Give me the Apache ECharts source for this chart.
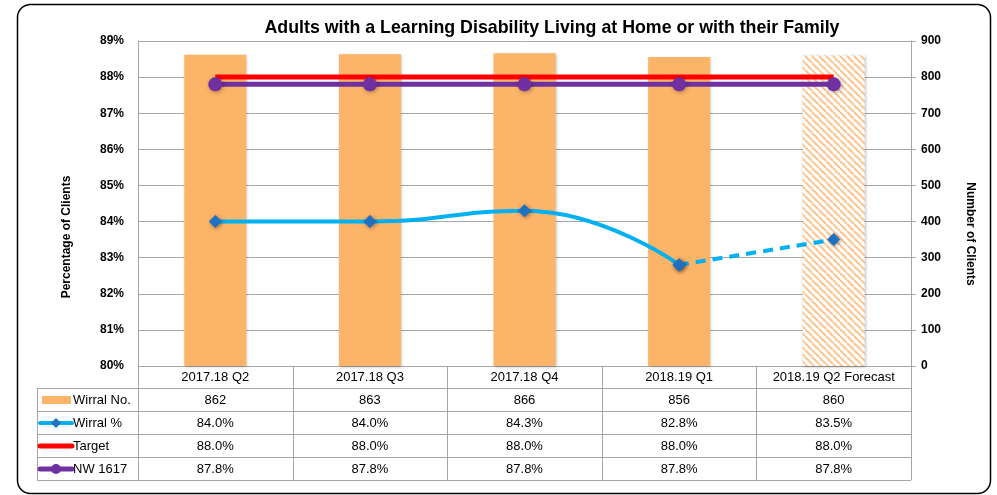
<!DOCTYPE html>
<html><head><meta charset="utf-8">
<script src="https://cdn.jsdelivr.net/npm/echarts@6/dist/echarts.min.js"></script>
<style>html,body{margin:0;padding:0;background:#fff}#c{width:997px;height:495px}</style>
</head><body><div id="c"></div>
<script>
const categories = ['2017.18 Q2','2017.18 Q3','2017.18 Q4','2018.19 Q1','2018.19 Q2 Forecast'];
const wirralNo = [862, 863, 866, 856, 860];
const wirralPct = [84.0, 84.0, 84.3, 82.8, 83.5];
const target = [88.0, 88.0, 88.0, 88.0, 88.0];
const nw1617 = [87.8, 87.8, 87.8, 87.8, 87.8];
const seriesNames = ['Wirral No.', 'Wirral %', 'Target', 'NW 1617'];
const forecastIndex = 4;

const FONT = '"Liberation Sans", Arial, sans-serif';
const ORANGE = '#FCB469';
const BLUE = '#00B0F0';
const BLUE_MK = '#1F70C1';
const RED = '#FF0000';
const PURPLE = '#7030A0';
const GRID = '#A6A6A6';

// hatch pattern
const pc = document.createElement('canvas');
pc.width = 7; pc.height = 7;
const g = pc.getContext('2d');
g.fillStyle = '#fff'; g.fillRect(0,0,7,7);
g.strokeStyle = '#FDC48F'; g.lineWidth = 2;
[-7,0,7].forEach(x0 => { g.beginPath(); g.moveTo(x0,0); g.lineTo(x0+7,7); g.stroke(); });

const chart = echarts.init(document.getElementById('c'), null, {renderer:'canvas'});
const L = 138, R = 86, T = 41, B = 129;

const barData = wirralNo.map((v,i) => i === forecastIndex
  ? {value: v, itemStyle: {color: {image: pc, repeat: 'repeat'}}}
  : v);
const solidPct = wirralPct.map((v,i) => i < forecastIndex ? v : null);
const dashPct = wirralPct.map((v,i) => i >= forecastIndex - 1 ? v : null);

chart.setOption({
  animation: false,
  backgroundColor: '#fff',
  title: {text: 'Adults with a Learning Disability Living at Home or with their Family',
    left: 547, top: 14, textAlign: 'center',
    textStyle: {fontFamily: FONT, fontSize: 17.8, fontWeight: 'bold', color: '#000'}},
  grid: {left: L, right: R, top: T, bottom: B, containLabel: false},
  xAxis: {type: 'category', data: categories, boundaryGap: true,
    axisLine: {show: true, lineStyle: {color: GRID}}, axisTick: {show: false},
    axisLabel: {fontFamily: FONT, fontSize: 13, color: '#000', margin: 5, interval: 0}},
  yAxis: [
    {type: 'value', min: 80, max: 89, interval: 1, position: 'left',
      axisLine: {show: true, lineStyle: {color: GRID}}, axisTick: {show: false},
      axisLabel: {formatter: '{value}%', fontFamily: FONT, fontSize: 12, fontWeight: 'bold', color: '#000', margin: 14},
      splitLine: {show: true, lineStyle: {color: GRID, width: 1}}},
    {type: 'value', min: 0, max: 900, interval: 100, position: 'right',
      axisLine: {show: true, lineStyle: {color: GRID}},
      axisTick: {show: true, inside: false, length: 5, lineStyle: {color: GRID}},
      axisLabel: {fontFamily: FONT, fontSize: 12, fontWeight: 'bold', color: '#000', margin: 10},
      splitLine: {show: false}}
  ],
  series: [
    {name: seriesNames[0], type: 'bar', yAxisIndex: 1, data: barData, barWidth: 62,
      itemStyle: {color: ORANGE, shadowBlur: 3, shadowColor: 'rgba(0,0,0,0.25)', shadowOffsetX: 1, shadowOffsetY: 1}, z: 1},
    {name: seriesNames[2], type: 'line', yAxisIndex: 0, data: target, symbol: 'none',
      lineStyle: {color: RED, width: 5}, z: 3},
    {name: seriesNames[3], type: 'line', yAxisIndex: 0, data: nw1617, symbol: 'circle', symbolSize: 14,
      lineStyle: {color: PURPLE, width: 5}, itemStyle: {color: PURPLE, shadowBlur: 4, shadowColor: 'rgba(0,0,0,0.35)', shadowOffsetX: 1, shadowOffsetY: 1}, z: 4},
    {name: seriesNames[1], type: 'line', yAxisIndex: 0, data: solidPct, smooth: 0.5, connectNulls: false,
      symbol: 'diamond', symbolSize: 13,
      lineStyle: {color: BLUE, width: 4}, itemStyle: {color: BLUE_MK, shadowBlur: 4, shadowColor: 'rgba(0,0,0,0.4)', shadowOffsetX: 1, shadowOffsetY: 1}, z: 5},
    {name: seriesNames[1] + ' forecast', type: 'line', yAxisIndex: 0, data: dashPct, smooth: 0.5,
      symbol: 'diamond', symbolSize: 13,
      lineStyle: {color: BLUE, width: 4, type: [10, 7]}, itemStyle: {color: BLUE_MK, shadowBlur: 4, shadowColor: 'rgba(0,0,0,0.4)', shadowOffsetX: 1, shadowOffsetY: 1}, z: 5}
  ]
});

// Data table
const c0 = chart.convertToPixel({xAxisIndex: 0}, 0);
const c1 = chart.convertToPixel({xAxisIndex: 0}, 1);
const bw = c1 - c0;
const yBottom = chart.convertToPixel({yAxisIndex: 0}, 80);
const tableLeft = 37;
const rowH = 23;
const headerBottom = yBottom + 22;
const rowsY = [0,1,2,3,4].map(k => headerBottom + k * rowH);
const right = c0 - bw/2 + bw * categories.length;
const els = [];
const line = (x1,y1,x2,y2,color,w,extra) => els.push(Object.assign({type:'line', silent:true,
  shape:{x1,y1,x2,y2}, style:{stroke:color, lineWidth:w||1}}, extra||{}));
const text = (t,x,y,opts) => els.push({type:'text', silent:true, style:Object.assign({text:t, x, y,
  fill:'#000', font:'13px ' + FONT, align:'center', verticalAlign:'middle'}, opts||{})});

rowsY.forEach(y => line(tableLeft, Math.round(y)+0.5, right, Math.round(y)+0.5, GRID, 1));
line(tableLeft+0.5, rowsY[0], tableLeft+0.5, rowsY[4], GRID, 1);
for (let i = 0; i <= categories.length; i++) {
  const x = Math.round(c0 - bw/2 + bw*i) + 0.5;
  line(x, yBottom, x, rowsY[4], GRID, 1);
}
const rows = [
  wirralNo.map(v => String(v)),
  wirralPct.map(v => v.toFixed(1) + '%'),
  target.map(v => v.toFixed(1) + '%'),
  nw1617.map(v => v.toFixed(1) + '%')
];
rows.forEach((vals, r) => {
  const cy = rowsY[r] + rowH/2 + 0.5;
  vals.forEach((v, i) => text(v, c0 + bw*i, cy));
  text(seriesNames[r], 73, cy, {align: 'left'});
});
const ky = r => rowsY[r] + rowH/2 + 0.5;
els.push({type:'rect', silent:true, shape:{x:42, y:ky(0)-4, width:29, height:8}, style:{fill:ORANGE}});
line(40, ky(1), 72, ky(1), BLUE, 4, {style:{stroke:BLUE, lineWidth:4, lineCap:'round'}});
els.push({type:'polygon', silent:true, shape:{points:[[56,ky(1)-5],[61,ky(1)],[56,ky(1)+5],[51,ky(1)]]}, style:{fill:BLUE_MK}});
line(40, ky(2), 72, ky(2), RED, 5, {style:{stroke:RED, lineWidth:5, lineCap:'round'}});
line(40, ky(3), 72, ky(3), PURPLE, 5, {style:{stroke:PURPLE, lineWidth:5, lineCap:'round'}});
els.push({type:'circle', silent:true, shape:{cx:56, cy:ky(3), r:5}, style:{fill:PURPLE}});

els.push({type:'text', silent:true, x:67, y:237, rotation: Math.PI/2,
  style:{text:'Percentage of Clients', fill:'#000', font:'bold 12px ' + FONT, align:'center', verticalAlign:'middle'}});
els.push({type:'text', silent:true, x:970, y:234, rotation: -Math.PI/2,
  style:{text:'Number of Clients', fill:'#000', font:'bold 12px ' + FONT, align:'center', verticalAlign:'middle'}});
els.push({type:'rect', silent:true, shape:{x:17.5, y:4.5, width:973, height:489, r:13},
  style:{fill:'transparent', stroke:'#000', lineWidth:1.5}, z: 100});

chart.setOption({graphic: {elements: els}});
</script></body></html>
